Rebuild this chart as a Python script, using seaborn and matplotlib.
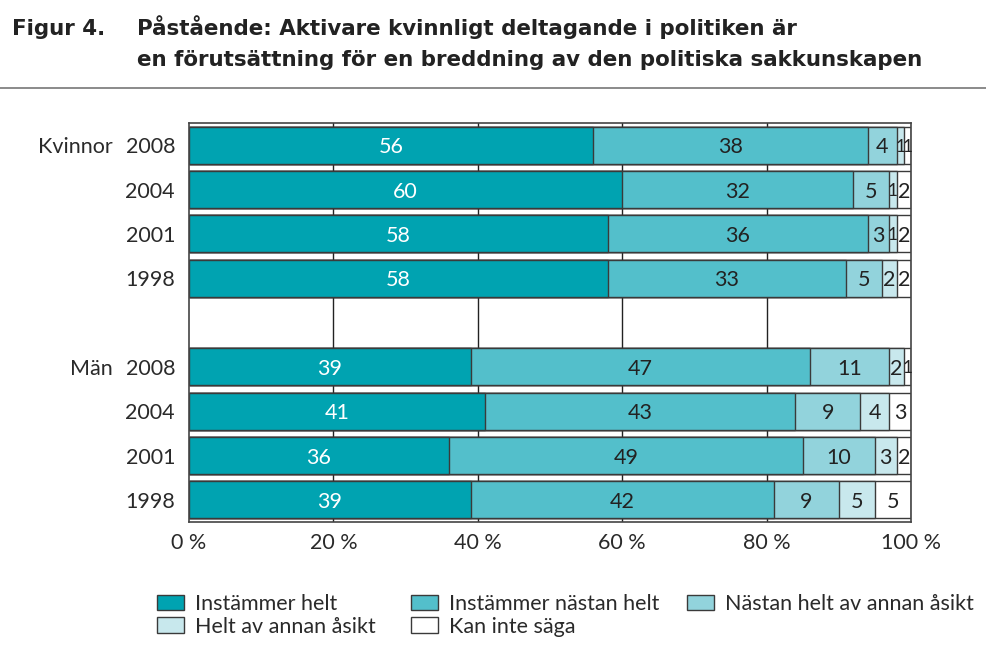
import numpy as np
import pandas as pd
import matplotlib
matplotlib.use("Agg")
import matplotlib.pyplot as plt
import seaborn as sns
from matplotlib.lines import Line2D
from matplotlib.patches import Patch
from matplotlib.transforms import blended_transform_factory

# ---------------- data ----------------
row_keys = ["K2008", "K2004", "K2001", "K1998", "gap", "M2008", "M2004", "M2001", "M1998"]
year_labels = ["2008", "2004", "2001", "1998", "", "2008", "2004", "2001", "1998"]
group_labels = ["Kvinnor", "Män"]
series_names = ["Instämmer helt", "Instämmer nästan helt", "Nästan helt av annan åsikt",
                "Helt av annan åsikt", "Kan inte säga"]
data_rows = ["K2008", "K2004", "K2001", "K1998", "M2008", "M2004", "M2001", "M1998"]
instammer_helt = [56, 60, 58, 58, 39, 41, 36, 39]
instammer_nastan = [38, 32, 36, 33, 47, 43, 49, 42]
nastan_annan = [4, 5, 3, 5, 11, 9, 10, 9]
helt_annan = [1, 1, 1, 2, 2, 4, 3, 5]
kan_inte = [1, 2, 2, 2, 1, 3, 2, 5]
xticks = [0, 20, 40, 60, 80, 100]
xtick_labels = ["0 %", "20 %", "40 %", "60 %", "80 %", "100 %"]

colors = ["#00A3B1", "#53BFCB", "#92D3DC", "#C8E8ED", "#FFFFFF"]
text_colors = ["white", "#222222", "#222222", "#222222", "#222222"]

series = [instammer_helt, instammer_nastan, nastan_annan, helt_annan, kan_inte]
df = pd.DataFrame({"row": data_rows})
for name, vals in zip(series_names, series):
    df[name] = vals
cum = df[series_names].cumsum(axis=1)

# ---------------- figure ----------------
sns.set_theme(style="white")
plt.rcParams["font.family"] = ["Lato", "DejaVu Sans"]
FS = 15.5
TXT = "#2a2a2a"

fig = plt.figure(figsize=(9.86, 6.56), dpi=100)
ax = fig.add_axes([189/986, 1-522/656, (911-189)/986, (522-123)/656])

edge = "#3a3a3a"
for i in range(len(series_names)-1, -1, -1):
    name = series_names[i]
    sns.barplot(x=cum[name], y=df["row"], order=row_keys, orient="h",
                color=colors[i], saturation=1, width=0.83,
                edgecolor=edge, linewidth=1.0, ax=ax, zorder=2)

ypos = {k: j for j, k in enumerate(row_keys)}
for r in range(len(df)):
    y = ypos[df["row"].iloc[r]]
    left = 0
    for i, name in enumerate(series_names):
        v = df[name].iloc[r]
        fs = FS if v > 1 else 12.5
        ax.text(left + v/2, y, str(v), ha="center", va="center_baseline",
                fontsize=fs, color=text_colors[i], zorder=5)
        left += v

ax.set_xlim(0, 100)
ax.set_ylim(8.5, -0.5)
ax.set_xticks(xticks)
ax.set_xticklabels(xtick_labels, fontsize=FS, color=TXT)
ax.set_yticks(range(len(row_keys)))
ax.set_yticklabels(year_labels, fontsize=FS, color=TXT)
ax.tick_params(axis="both", length=0)
ax.tick_params(axis="y", pad=10)
ax.tick_params(axis="x", pad=8)
ax.set_xlabel("")
ax.set_ylabel("")
for x in xticks[1:-1]:
    ax.axvline(x, color="#222222", lw=1.0, zorder=0)
for s in ax.spines.values():
    s.set_visible(True)
    s.set_color("#444444")
    s.set_linewidth(1.2)

tr = blended_transform_factory(fig.transFigure, ax.transData)
ax.text(113/986, ypos["K2008"], group_labels[0], transform=tr, ha="right",
        va="center_baseline", fontsize=FS, color=TXT)
ax.text(113/986, ypos["M2008"], group_labels[1], transform=tr, ha="right",
        va="center_baseline", fontsize=FS, color=TXT)

# title
TFONT = ["DejaVu Sans"]
TFS = 15.4
fig.text(12/986, 1-35/656, "Figur 4.", fontsize=TFS, fontweight="bold", family=TFONT,
         color="#222222", va="baseline")
fig.text(137/986, 1-35/656, "Påstående: Aktivare kvinnligt deltagande i politiken är",
         fontsize=TFS, fontweight="bold", family=TFONT, color="#222222", va="baseline")
fig.text(137/986, 1-66/656, "en förutsättning för en breddning av den politiska sakkunskapen",
         fontsize=TFS, fontweight="bold", family=TFONT, color="#222222", va="baseline")
fig.add_artist(Line2D([0, 1], [1-88/656, 1-88/656], transform=fig.transFigure,
                      color="#777777", lw=1.2))

# legend: three columns placed at the reference's column positions
handles = [Patch(facecolor=c, edgecolor=edge, linewidth=1.0, label=n)
           for c, n in zip(colors, series_names)]
columns = [[0, 3], [1, 4], [2]]
col_x = [157, 411, 687]
for cols, cx in zip(columns, col_x):
    leg = fig.legend([handles[i] for i in cols], [series_names[i] for i in cols],
                     ncol=1, loc="upper left", bbox_to_anchor=(cx/986, 1-594/656),
                     frameon=False, fontsize=FS, handlelength=1.25, handleheight=0.75,
                     handletextpad=0.5, labelspacing=0.12,
                     borderpad=0, borderaxespad=0)
    for t in leg.get_texts():
        t.set_color(TXT)

fig.savefig("out.png", dpi=100, facecolor="white")
